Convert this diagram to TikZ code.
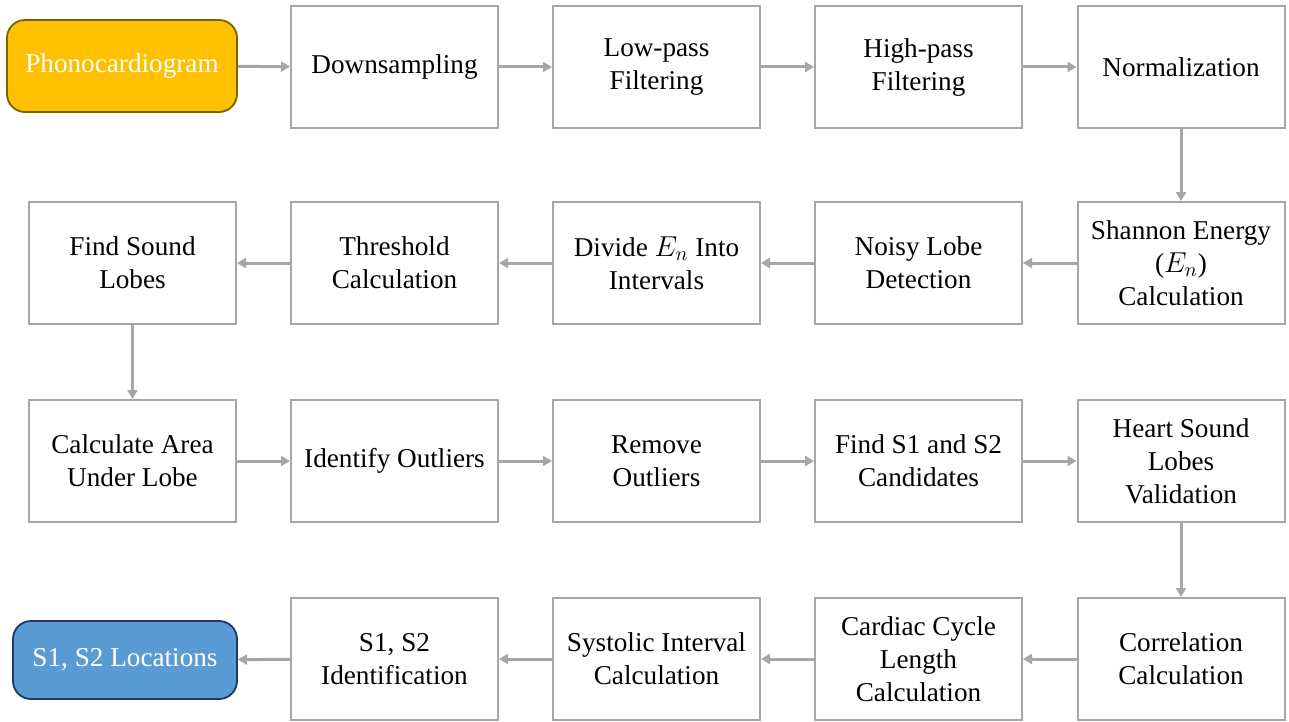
\documentclass[tikz,border=0pt]{standalone}
\usepackage{fontspec}
\setmainfont{Liberation Serif}
\usetikzlibrary{arrows.meta}
\definecolor{boxgray}{HTML}{A6A6A6}
\definecolor{pcgold}{HTML}{FFC000}
\definecolor{pcbrown}{HTML}{7F6000}
\definecolor{locblue}{HTML}{5B9BD5}
\definecolor{locnavy}{HTML}{203864}

\begin{document}
\begin{tikzpicture}[x=0.5pt, y=-0.5pt, >={Triangle[length=4.5pt, width=5pt]}, line width=1.5pt,
  stepbox/.style={draw=boxgray, line width=1pt, minimum width=103.5pt, minimum height=61pt,
    align=center, inner sep=2pt, font=\fontsize{13.6}{16.5}\selectfont},
  endbox/.style={rounded corners=9pt, line width=0.9pt, align=center, text=white,
    font=\fontsize{13.6}{16.5}\selectfont},
  flow/.style={boxgray, ->}]

\useasboundingbox (0,0) rectangle (1289,722);

% Row 1
\node[endbox, fill=pcgold, draw=pcbrown, minimum width=115pt, minimum height=46pt] (pcg) at (122,66) {Phonocardiogram};
\node[stepbox] (down) at (394.5,67) {Downsampling};
\node[stepbox] (lowp) at (656.5,67) {Low-pass\\Filtering};
\node[stepbox] (highp) at (918.5,67) {High-pass\\Filtering};
\node[stepbox] (norm) at (1181,67) {Normalization};

% Row 2
\node[stepbox] (shannon) at (1181,263) {Shannon Energy\\($E_n$)\\Calculation};
\node[stepbox] (noisy) at (918.5,263) {Noisy Lobe\\Detection};
\node[stepbox] (divide) at (656.5,263) {Divide $E_n$ Into\\Intervals};
\node[stepbox] (thresh) at (394.5,263) {Threshold\\Calculation};
\node[stepbox] (lobes) at (132.5,263) {Find Sound\\Lobes};

% Row 3
\node[stepbox] (area) at (132.5,461) {Calculate Area\\Under Lobe};
\node[stepbox] (ident) at (394.5,461) {Identify Outliers};
\node[stepbox] (remove) at (656.5,461) {Remove\\Outliers};
\node[stepbox] (cand) at (918.5,461) {Find S1 and S2\\Candidates};
\node[stepbox] (valid) at (1181,461) {Heart Sound\\Lobes\\Validation};

% Row 4
\node[stepbox] (corr) at (1181,659) {Correlation\\Calculation};
\node[stepbox] (cycle) at (918.5,659) {Cardiac Cycle\\Length\\Calculation};
\node[stepbox] (systolic) at (656.5,659) {Systolic Interval\\Calculation};
\node[stepbox] (s12id) at (394.5,659) {S1, S2\\Identification};
\node[endbox, fill=locblue, draw=locnavy, minimum width=112pt, minimum height=39pt] (loc) at (125,660) {S1, S2 Locations};

% Connectors
\foreach \a/\b in {pcg/down, down/lowp, lowp/highp, highp/norm, norm/shannon,
                   shannon/noisy, noisy/divide, divide/thresh, thresh/lobes, lobes/area,
                   area/ident, ident/remove, remove/cand, cand/valid, valid/corr,
                   corr/cycle, cycle/systolic, systolic/s12id, s12id/loc} {
  \draw[flow] (\a) -- (\b);
}

\end{tikzpicture}
\end{document}
